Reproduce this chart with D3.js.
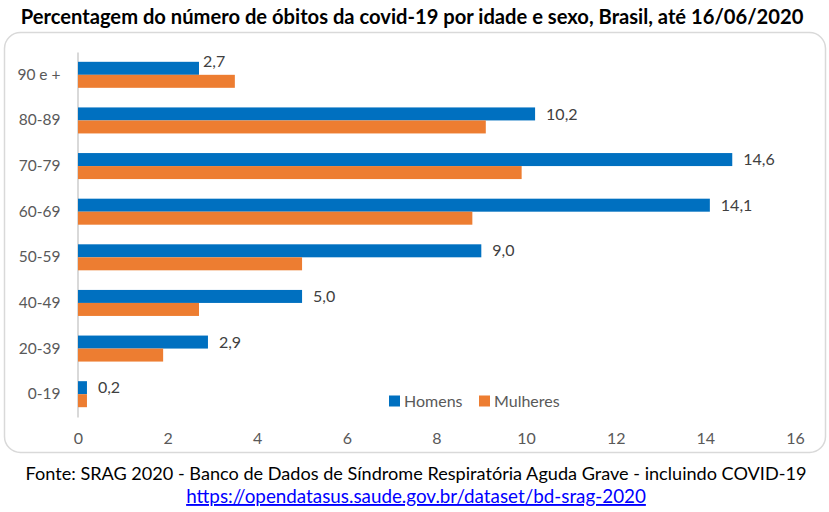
<!DOCTYPE html>
<html lang="pt">
<head>
<meta charset="UTF-8">
<script src="https://d3js.org/d3.v7.min.js"></script>
<title>Óbitos covid-19 por idade e sexo</title>
<style>
  body { margin: 0; background: #fff; }
  text { font-family: Lato, "Open Sans", sans-serif; }
</style>
</head>
<body>
<svg width="829" height="512"></svg>
<script>
// dados
var faixas = ["90 e +", "80-89", "70-79", "60-69", "50-59", "40-49", "20-39", "0-19"];
var homens = [2.7, 10.2, 14.6, 14.1, 9.0, 5.0, 2.9, 0.2];
var mulheres = [3.5, 9.1, 9.9, 8.8, 5.0, 2.7, 1.9, 0.2];
var series = ["Homens", "Mulheres"];
var xTicks = [0, 2, 4, 6, 8, 10, 12, 14, 16];

var cores = { Homens: "#0070c0", Mulheres: "#ed7d31" };

var svg = d3.select("svg");

// fits a text element's font size to a target width
function fit(sel, width) {
    var node = sel.node();
    var fs = parseFloat(sel.attr("font-size"));
    var w = node.getComputedTextLength();
    sel.attr("font-size", (fs * width / w).toFixed(2));
}

svg.append("rect")
    .attr("x", 4.5).attr("y", 32.5)
    .attr("width", 821).attr("height", 420)
    .attr("rx", 16)
    .attr("fill", "#fff")
    .attr("stroke", "#d9d9d9")
    .attr("stroke-width", 1.5);

var titulo = svg.append("text")
    .attr("x", 412).attr("y", 24)
    .attr("text-anchor", "middle")
    .attr("font-size", 18)
    .attr("font-weight", "bold")
    .attr("fill", "#000")
    .text("Percentagem do número de óbitos da covid-19 por idade e sexo, Brasil, até 16/06/2020");
fit(titulo, 783);

var x = d3.scaleLinear().domain([0, 16]).range([78, 795]);
var y = d3.scaleBand().domain(faixas).range([52, 417]).paddingInner(0.43).paddingOuter(0.215);
var ySub = d3.scaleBand().domain(series).range([0, y.bandwidth()]);

// eixo x (somente rótulos)
var xAxis = svg.append("g")
    .attr("transform", "translate(0,433)")
    .call(d3.axisBottom(x).tickValues(xTicks).tickSize(0).tickPadding(0));
xAxis.select(".domain").remove();
xAxis.selectAll("text")
    .attr("font-size", 16)
    .attr("fill", "#595959")
    .attr("font-family", "Lato, sans-serif");

// eixo y
var yAxis = svg.append("g")
    .attr("transform", "translate(77.5,0)")
    .call(d3.axisLeft(y).tickSize(0).tickPadding(17));
yAxis.select(".domain")
    .attr("stroke", "#d9d9d9")
    .attr("stroke-width", 2);
yAxis.selectAll("text")
    .attr("font-size", 15.5)
    .attr("fill", "#595959")
    .attr("font-family", "Lato, sans-serif");

var linhas = faixas.map(function(f, i) {
    return { faixa: f, Homens: homens[i], Mulheres: mulheres[i] };
});

var grupos = svg.append("g").selectAll("g")
    .data(linhas)
    .enter().append("g")
    .attr("transform", function(d) { return "translate(0," + y(d.faixa) + ")"; });

grupos.selectAll("rect")
    .data(function(d) { return series.map(function(s) { return { s: s, v: d[s] }; }); })
    .enter().append("rect")
    .attr("x", x(0))
    .attr("y", function(d) { return ySub(d.s); })
    .attr("width", function(d) { return x(d.v) - x(0); })
    .attr("height", ySub.bandwidth())
    .attr("fill", function(d) { return cores[d.s]; });

// rótulos de dados (Homens); sobe o rótulo quando a barra laranja é maior
grupos.append("text")
    .attr("x", function(d) { return x(d.Homens) + (d.Mulheres > d.Homens ? 4 : 11); })
    .attr("y", function(d) {
        var c = ySub("Homens") + ySub.bandwidth() / 2;
        return d.Mulheres > d.Homens ? c - 7 : c;
    })
    .attr("dy", "0.35em")
    .attr("font-size", 16)
    .attr("fill", "#404040")
    .text(function(d) { return d3.format(".1f")(d.Homens).replace(".", ","); });

// legenda
var leg = svg.append("g").attr("transform", "translate(389,401)");
var itens = leg.selectAll("g")
    .data(series)
    .enter().append("g")
    .attr("transform", function(d, i) { return "translate(" + (i * 90) + ",0)"; });
itens.append("rect")
    .attr("x", 0).attr("y", -5.5)
    .attr("width", 11).attr("height", 11)
    .attr("fill", function(d) { return cores[d]; });
itens.append("text")
    .attr("x", 15).attr("dy", "0.35em")
    .attr("font-size", 16)
    .attr("fill", "#595959")
    .text(function(d) { return d; });

var fonte = svg.append("text")
    .attr("x", 416).attr("y", 480)
    .attr("text-anchor", "middle")
    .attr("font-size", 17)
    .attr("fill", "#000")
    .text("Fonte: SRAG 2020 - Banco de Dados de Síndrome Respiratória Aguda Grave - incluindo COVID-19");
fit(fonte, 782);

var link = svg.append("text")
    .attr("x", 416).attr("y", 503)
    .attr("text-anchor", "middle")
    .attr("font-size", 17)
    .attr("fill", "#0000ff")
    .attr("text-decoration", "underline")
    .text("https://opendatasus.saude.gov.br/dataset/bd-srag-2020");
fit(link, 460);
</script>
</body>
</html>
